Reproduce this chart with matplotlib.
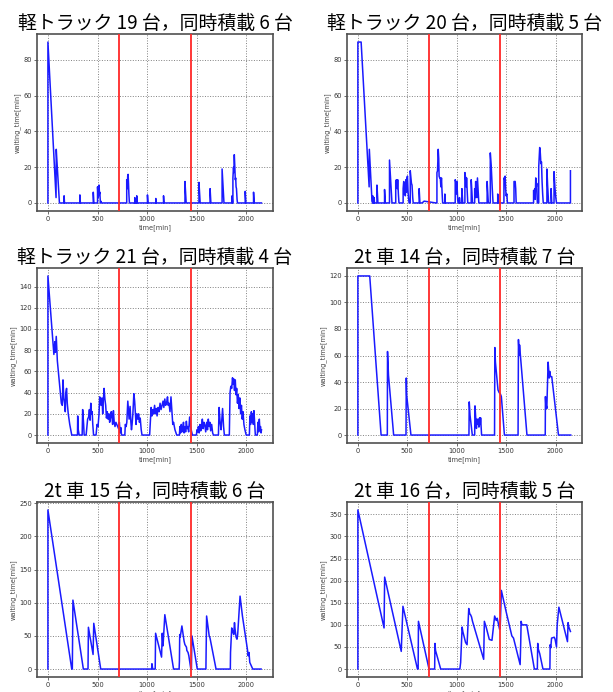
import matplotlib
matplotlib.use("Agg")
import matplotlib.pyplot as plt

titles = ["軽トラック 19 台，同時積載 6 台", "軽トラック 20 台，同時積載 5 台",
          "軽トラック 21 台，同時積載 4 台", "2t 車 14 台，同時積載 7 台",
          "2t 車 15 台，同時積載 6 台", "2t 車 16 台，同時積載 5 台"]
red_lines = [720, 1440]
xticks = [0, 500, 1000, 1500, 2000]

t1 = [0, 0, 82, 84, 88, 116, 163, 163, 167, 322, 322, 327, 457, 457, 463,
      500, 500, 506, 508, 512, 515, 520, 523, 529, 533, 540,
      794, 794, 800, 804, 808, 812, 816, 821, 875, 875, 878, 895, 895, 899,
      1003, 1003, 1008, 1087, 1087, 1090, 1165, 1165, 1169, 1381, 1381, 1393,
      1522, 1522, 1534, 1634, 1634, 1642, 1755, 1755, 1774, 1856, 1856, 1860,
      1864, 1864, 1870, 1874, 1878, 1882, 1888, 1892, 1896, 1900, 1906, 1910,
      1988, 1988, 1995, 2072, 2072, 2078, 2152]
w1 = [0, 90, 3, 30, 26, 0, 0, 4, 0, 0, 4.5, 0, 0, 6, 0,
      0, 9, 3, 9, 4, 10, 5, 6, 0, 1, 0,
      0, 13, 8, 15, 16, 11, 5, 0, 0, 3, 0, 0, 4, 0,
      0, 4.5, 0, 0, 2.5, 0, 0, 4, 0, 0, 12, 0,
      0, 11.5, 0, 0, 8, 0, 0, 19, 0, 0, 4, 0,
      0, 14, 20, 17, 27, 22, 13, 14, 9, 8, 2, 0,
      0, 6.5, 0, 0, 6, 0, 0]

t2 = [0, 0, 33, 114, 116, 143, 150, 150, 154, 165, 165, 168, 193, 193, 203,
      270, 270, 277, 320, 320, 330, 336, 345, 383, 383, 390, 398, 403, 410, 416,
      458, 458, 464, 470, 474, 480, 486, 492, 497, 502, 508, 514, 518,
      530, 530, 537, 542, 548, 555, 560, 620, 620, 628, 650, 670, 790,
      800, 800, 806, 813, 818, 822, 828, 834, 840, 846, 852, 858, 880, 880, 885,
      985, 985, 990, 996, 1002, 1010, 1014, 1028, 1028, 1031, 1053, 1053, 1061,
      1083, 1083, 1090, 1096, 1100, 1108, 1112, 1147, 1147, 1160,
      1182, 1182, 1188, 1192, 1198, 1204, 1210, 1220, 1224,
      1308, 1308, 1318, 1320, 1340, 1340, 1350, 1360, 1368, 1415, 1415, 1420,
      1478, 1478, 1484, 1490, 1495, 1500, 1508, 1513, 1580, 1580, 1592, 1597, 1602,
      1778, 1778, 1784, 1790, 1795, 1800, 1806, 1810, 1816,
      1830, 1830, 1840, 1846, 1852, 1858, 1864, 1870, 1876, 1913, 1913, 1920, 1930,
      1955, 1955, 1962, 1985, 1985, 1995, 2003, 2010, 2151, 2151]
w2 = [0, 90, 90, 9, 30, 1, 0, 4, 0, 0, 3, 0, 0, 10, 0,
      0, 7.5, 0, 0, 24, 14, 9, 0, 0, 12, 13, 8, 13, 5, 0,
      0, 8, 12, 5, 11, 4, 13, 6, 14, 15, 6, 2, 0,
      0, 18, 14, 11, 10, 3, 0, 0, 8, 0, 0, 1, 0,
      0, 17, 18, 30, 25, 15, 14, 14, 9, 14, 6, 0, 0, 5, 0,
      0, 13, 12, 5, 12, 2, 0, 0, 3, 0, 0, 8, 0,
      0, 17, 14, 9, 14, 4, 0, 0, 13, 0,
      0, 8, 3, 12, 5, 3, 14, 4, 0,
      0, 12, 2, 0, 0, 28, 20, 8, 0, 0, 5, 0,
      0, 14, 13, 15, 8, 4, 5, 0, 0, 12, 12, 8, 0,
      0, 7, 6, 8, 2, 14, 9, 11, 0,
      0, 20, 31, 28, 22, 23, 12, 5, 0, 0, 19, 10, 0,
      0, 8, 0, 0, 17.5, 8, 3, 0, 0, 18]

t3 = [0, 0, 60, 70, 75, 84, 95, 110, 120, 135, 145, 152, 160, 168, 175, 180, 188,
      195, 205, 220, 240,
      298, 300, 306, 315, 345, 350, 360, 365, 385, 400, 410, 418, 425, 432, 440,
      446, 452, 460, 485, 495, 505, 515, 522, 530, 537, 545, 552, 558, 566, 574,
      582, 590, 598, 606, 615, 622, 630, 638, 645, 652, 660, 668, 676, 685, 694,
      702, 712, 720, 728, 735, 742, 775, 780, 788, 795, 805, 812, 818, 828, 836,
      842, 848, 856, 866, 874, 880, 888, 896, 906, 914, 922, 930, 940, 948,
      1025, 1040, 1048, 1056, 1064, 1075, 1083, 1092, 1100, 1110, 1120, 1130, 1140,
      1150, 1160, 1168, 1178, 1186, 1195, 1205, 1212, 1220, 1230, 1240, 1248, 1258,
      1266, 1280, 1298,
      1325, 1330, 1336, 1344, 1350, 1358, 1366, 1372, 1380, 1388, 1395, 1402, 1410,
      1418, 1428, 1438, 1446, 1456,
      1496, 1502, 1510, 1516, 1524, 1532, 1540, 1548, 1556, 1564, 1572, 1580, 1590,
      1600, 1608, 1616, 1624, 1632, 1640, 1650, 1660, 1668,
      1718, 1725, 1735, 1745, 1760, 1770, 1778,
      1828, 1835, 1843, 1852, 1860, 1866, 1872, 1880, 1888, 1895, 1902, 1910, 1918,
      1926, 1934, 1942, 1950, 1958, 1966, 1975, 1985, 1998,
      2030, 2035, 2042, 2050, 2056, 2064, 2070, 2076, 2084, 2090, 2110, 2116, 2124,
      2130, 2136, 2142, 2148, 2152]
w3 = [0, 150, 76, 88, 78, 93, 70, 55, 45, 30, 28, 52, 35, 30, 22, 40, 44,
      30, 20, 10, 0,
      0, 18, 5, 0, 0, 24, 10, 0, 0, 15, 17, 24, 14, 30, 20,
      22, 10, 0, 0, 10, 8, 20, 36, 30, 28, 35, 20, 32, 44, 34,
      28, 16, 22, 15, 20, 12, 16, 22, 18, 10, 23, 12, 8, 12, 10,
      8, 6, 12, 2, 7, 0, 0, 10, 8, 12, 32, 22, 15, 27, 12,
      5, 10, 20, 39, 32, 22, 10, 20, 15, 20, 12, 16, 5, 0,
      0, 26, 18, 24, 20, 28, 20, 25, 18, 26, 22, 30, 24,
      28, 32, 26, 34, 28, 30, 36, 28, 30, 22, 36, 25, 10,
      12, 5, 0,
      0, 8, 2, 10, 3, 5, 12, 2, 8, 3, 13, 6, 8,
      3, 17, 8, 4, 0,
      0, 5, 3, 8, 2, 10, 4, 8, 15, 6, 12, 10, 3,
      12, 5, 15, 8, 12, 4, 10, 2, 0,
      0, 26, 12, 5, 25, 8, 0,
      0, 40, 46, 44, 54, 48, 53, 42, 52, 38, 44, 30, 38,
      25, 35, 20, 28, 15, 22, 10, 5, 0,
      0, 18, 10, 22, 12, 20, 10, 23, 10, 0, 0, 12, 3,
      15, 5, 8, 2, 5]

t4 = [0, 0, 120, 235, 298, 300, 310, 362, 487, 490, 494, 537, 1124, 1127, 1135,
      1158, 1182, 1185, 1195, 1200, 1205, 1212, 1218, 1225, 1232, 1238, 1242,
      1252, 1383, 1386, 1392, 1418, 1430, 1442, 1452, 1483, 1621, 1625, 1632,
      1636, 1711, 1896, 1898, 1903, 1908, 1912, 1925, 1930, 1936, 1942, 1950,
      1962, 2030, 2154]
w4 = [0, 120, 120, 0, 0, 63, 45, 0, 0, 43, 30, 0, 0, 25, 15,
      0, 0, 22, 10, 5, 12, 8, 12, 6, 13, 8, 13,
      0, 0, 66, 55, 34, 32, 31, 29, 0, 0, 72, 60,
      68, 0, 0, 29, 21, 22, 20, 55, 50, 43, 48, 44,
      44, 0, 0]

t5 = [0, 0, 240, 246, 252, 357, 404, 408, 455, 462, 532, 1045, 1048, 1056, 1081,
      1085, 1145, 1152, 1160, 1178, 1266, 1322, 1325, 1328, 1333, 1350, 1372,
      1380, 1396, 1400, 1412, 1420, 1440, 1446, 1451, 1505, 1592, 1594, 1599,
      1625, 1633, 1694, 1838, 1840, 1852, 1860, 1866, 1872, 1880, 1886, 1896,
      1905, 1912, 1936, 1960, 2010, 2018, 2026, 2034, 2064, 2148]
w5 = [0, 240, 0, 0, 104, 0, 0, 63, 22, 69, 0, 0, 8, 0, 0,
      54, 18, 54, 35, 82, 0, 0, 12, 52, 48, 65, 42,
      37, 33, 28, 25, 20, 0, 0, 50, 0, 0, 25, 80,
      50, 47, 0, 0, 25, 62, 55, 58, 52, 70, 60, 48,
      45, 52, 110, 80, 30, 20, 25, 10, 0, 0]

t6 = [0, 0, 265, 271, 439, 456, 603, 610, 613, 720, 777, 780, 786, 838, 1032,
      1040, 1055, 1062, 1090, 1105, 1122, 1132, 1140, 1150, 1160, 1273, 1280,
      1298, 1330, 1357, 1384, 1400, 1410, 1434, 1440, 1452, 1500, 1558, 1575,
      1642, 1648, 1652, 1660, 1675, 1709, 1786, 1816, 1820, 1826, 1840, 1873,
      1943, 1946, 1952, 1960, 1987, 1995, 2010, 2017, 2034, 2121, 2127, 2135, 2151]
w6 = [0, 360, 93, 208, 40, 142, 0, 0, 108, 0, 0, 58, 42, 0, 0,
      15, 95, 85, 60, 55, 137, 125, 123, 118, 108, 22, 108,
      95, 67, 65, 120, 110, 115, 90, 92, 178, 130, 75, 70,
      10, 60, 108, 100, 100, 100, 0, 0, 58, 45, 35, 0,
      0, 55, 48, 70, 72, 68, 50, 100, 140, 62, 105, 95, 85]

series = [(t1, w1), (t2, w2), (t3, w3), (t4, w4), (t5, w5), (t6, w6)]
yticks = [[0, 20, 40, 60, 80], [0, 20, 40, 60, 80],
          [0, 20, 40, 60, 80, 100, 120, 140], [0, 20, 40, 60, 80, 100, 120],
          [0, 50, 100, 150, 200, 250], [0, 50, 100, 150, 200, 250, 300, 350]]

W, H = 613, 692
fig = plt.figure(figsize=(W / 100, H / 100), dpi=100)
fig.patch.set_facecolor("white")

lefts = [37, 347]
widths = [236, 235]
tops = [34, 268, 502]
heights = [177, 175, 175]

for i, (t, w) in enumerate(series):
    r, c = divmod(i, 2)
    l = lefts[c] / W
    b = 1 - (tops[r] + heights[r]) / H
    ax = fig.add_axes([l, b, widths[c] / W, heights[r] / H])
    ax.plot(t, w, color="#1a1aff", lw=1.1, zorder=3)
    for x in red_lines:
        ax.axvline(x, color="#ff2828", lw=1.3, zorder=4)
    ax.set_xlim(-110, 2268)
    ax.set_xticks(xticks)
    ax.set_yticks(yticks[i])
    ax.grid(True, linestyle=":", color="0.5", lw=0.7)
    ax.tick_params(labelsize=4.8, length=2, width=0.5, colors="#333333", pad=1.5)
    for s in ax.spines.values():
        s.set_color("#505050")
        s.set_linewidth(1.2)
    ax.set_xlabel("time[min]", fontsize=4.8, color="#444444", labelpad=1.5)
    ax.set_ylabel("waiting_time[min]", fontsize=4.8, color="#444444", labelpad=2)
    ax.set_title(titles[i], fontsize=13.6, pad=4,
                 family=["Noto Sans CJK JP", "DejaVu Sans"])

fig.savefig("out.png", dpi=100, facecolor="white")
